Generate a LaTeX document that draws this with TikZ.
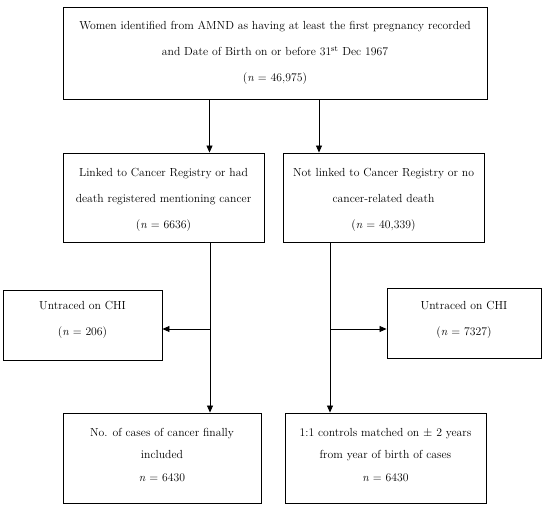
\documentclass[tikz,border=0pt]{standalone}
\usetikzlibrary{arrows.meta}
\begin{document}
\begin{tikzpicture}[x=1pt,y=-1pt,
  box/.style={draw=black,line width=0.9pt,inner sep=0pt},
  txt/.style={align=center,font=\fontsize{11.7}{26}\selectfont,inner sep=0pt},
  arr/.style={line width=0.8pt,-{Triangle[length=7pt,width=6pt]}},
  ln/.style={line width=0.8pt}]
\useasboundingbox (0,0) rectangle (550,506);
% boxes
\node[box,minimum width=424pt,minimum height=92pt] (top) at (275,53) {};
\node[box,minimum width=201pt,minimum height=89pt] (m1) at (163.5,197.5) {};
\node[box,minimum width=201pt,minimum height=89pt] (m2) at (383.5,197.5) {};
\node[box,minimum width=159pt,minimum height=70pt] (s1) at (82.5,325) {};
\node[box,minimum width=154pt,minimum height=70pt] (s2) at (464,323) {};
\node[box,minimum width=198pt,minimum height=90pt] (b1) at (162,458) {};
\node[box,minimum width=201pt,minimum height=90pt] (b2) at (385.5,458) {};
% texts
\node[txt] (ttop) at (275,53) {Women identified from AMND as having at least the first pregnancy recorded\\and Date of Birth on or before 31\textsuperscript{st} Dec 1967\\(\textit{n} = 46,975)};
\node[txt] (tm1) at (163.5,200) {Linked to Cancer Registry or had\\death registered mentioning cancer\\(\textit{n} = 6636)};
\node[txt] (tm2) at (383.5,200) {Not linked to Cancer Registry or no\\cancer-related death\\(\textit{n} = 40,339)};
\node[txt] (ts1) at (82.5,320) {Untraced on CHI\\(\textit{n} = 206)};
\node[txt] (ts2) at (464,320) {Untraced on CHI\\(\textit{n} = 7327)};
\node[txt,font=\fontsize{11.7}{22.5}\selectfont] (tb1) at (162,455) {No. of cases of cancer finally\\included\\\textit{n} = 6430};
\node[txt,font=\fontsize{11.7}{22.5}\selectfont] (tb2) at (385.5,455) {1:1 controls matched on $\pm$ 2 years\\from year of birth of cases\\\textit{n} = 6430};
% helper coordinates
\coordinate (c1) at (209.5,0);
\coordinate (c2) at (319,0);
\coordinate (c3) at (210,0);
\coordinate (c4) at (330,0);
\coordinate (j1) at (210,329);
\coordinate (j2) at (330,329);
% connectors
\draw[arr] (top.south -| c1) -- (m1.north -| c1);
\draw[arr] (top.south -| c2) -- (m2.north -| c2);
\draw[arr] (m1.south -| c3) -- (b1.north -| c3);
\draw[arr] (m2.south -| c4) -- (b2.north -| c4);
\draw[arr] (j1) -- (j1 -| s1.east);
\draw[arr] (j2) -- (j2 -| s2.west);
\end{tikzpicture}
\end{document}
